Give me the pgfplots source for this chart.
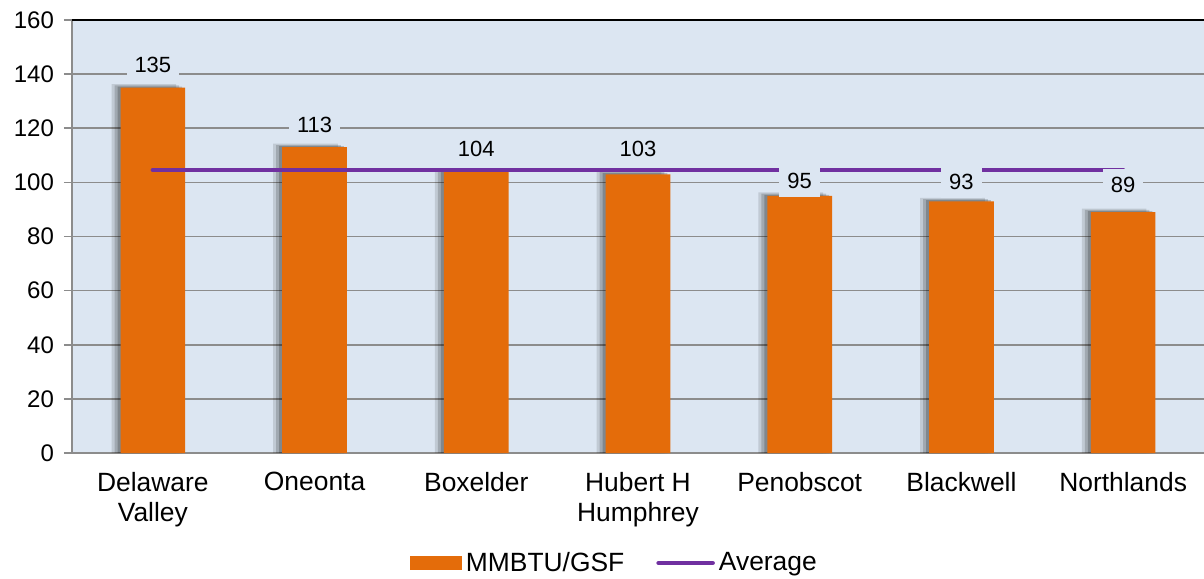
\documentclass[border=0pt]{standalone}
\usepackage{pgfplots}
\pgfplotsset{compat=1.18}
\usepackage{pgfplotstable}
\usepackage{fontspec}
\setmainfont{Liberation Sans}

\definecolor{barorange}{HTML}{E46C0A}
\definecolor{avgpurple}{HTML}{7030A0}
\definecolor{plotbg}{HTML}{DCE6F2}
\definecolor{gridgray}{HTML}{8C8C8C}

% x: category index, val: MMBTU/GSF, ly: where the value label sits
\pgfplotstableread{
x val ly lab
0 135 143.4 135
1 113 121.2 113
2 104 112.3 104
3 103 112.3 103
4 95 100.5 95
5 93 100.1 93
6 89 99.0 89
}\sitedata

\begin{document}
\begin{tikzpicture}
\useasboundingbox (0,0) rectangle (602pt,289pt);
\begin{axis}[
  at={(36pt,62.5pt)}, anchor=south west,
  scale only axis,
  width=566pt, height=216.5pt,
  xmin=-0.5, xmax=6.5,
  ymin=0, ymax=160,
  ytick={0,20,...,160},
  xtick={0,...,6},
  xticklabels={Delaware\\Valley, Oneonta, Boxelder, Hubert H\\Humphrey, Penobscot, Blackwell, Northlands},
  x tick style={draw=none},
  extra x ticks={-0.5,0.5,...,6.5},
  extra x tick labels={},
  extra x tick style={grid=none, tick style={draw=gridgray, line width=0.8pt}},
  y tick style={draw=gridgray, line width=0.8pt},
  tick align=outside,
  major tick length=4pt,
  axis x line*=bottom,
  axis y line*=left,
  axis line style={draw=gridgray, line width=0.8pt, -},
  ymajorgrids,
  grid style={draw=gridgray, line width=0.8pt},
  axis background/.style={fill=plotbg},
  /pgf/number format/assume math mode=true,
  yticklabel style={font=\fontsize{12}{14}\selectfont, xshift=-1.5pt},
  xticklabel style={font=\fontsize{13.2}{15}\selectfont, align=center, yshift=-2pt},
  legend style={at={(0.48,0)}, anchor=center, yshift=-55pt,
    draw=none, fill=none, legend columns=2,
    font=\fontsize{13.2}{15}\selectfont,
    /tikz/every even column/.append style={column sep=14pt}},
  legend cell align=left,
]
% blurred shadow to the left of each bar
\addplot[ybar, bar shift=-4.5pt, bar width=0.4, draw=none, fill=black, fill opacity=0.12, forget plot]
  table[x=x, y expr=\thisrow{val}+1.3] {\sitedata};
\addplot[ybar, bar shift=-3pt, bar width=0.4, draw=none, fill=black, fill opacity=0.16, forget plot]
  table[x=x, y expr=\thisrow{val}+0.8] {\sitedata};
\addplot[ybar, bar shift=-1.5pt, bar width=0.4, draw=none, fill=black, fill opacity=0.2, forget plot]
  table[x=x, y expr=\thisrow{val}+0.4] {\sitedata};

\addplot[ybar, bar shift=0pt, bar width=0.4, draw=none, fill=barorange,
  legend image code/.code={\fill[barorange] (0pt,-3.6pt) rectangle (26pt,3.6pt);}]
  table[x=x, y=val] {\sitedata};
\addlegendentry{MMBTU/GSF}

\addplot[avgpurple, line width=2.3pt, line cap=round,
  legend image code/.code={\draw[avgpurple, line width=2.3pt, line cap=round] (0pt,0pt) -- (27pt,0pt);}]
  coordinates {(0,104.57) (6,104.57)};
\addlegendentry{Average}

% value labels on boxes in the plot colour
\addplot[only marks, mark=*, mark options={draw=none, fill=none},
  point meta=explicit symbolic, nodes near coords,
  nodes near coords style={anchor=center, fill=plotbg, inner xsep=4pt,
    minimum height=16pt, font=\fontsize{11}{13}\selectfont}, forget plot]
  table[x=x, y=ly, meta=lab] {\sitedata};

\draw[black, line width=0.8pt] (rel axis cs:0,1) -- (rel axis cs:1,1);
\end{axis}
\end{tikzpicture}
\end{document}
